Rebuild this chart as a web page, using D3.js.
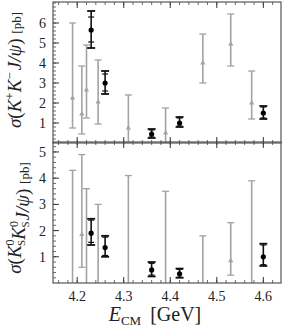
<!DOCTYPE html>
<html>
<head>
<meta charset="utf-8">
<script src="https://cdn.jsdelivr.net/npm/d3@7"></script>
<style>
  body { margin: 0; background: #fff; }
  text { font-family: "Liberation Serif", "DejaVu Serif", serif; fill: #222; }
</style>
</head>
<body>
<svg id="chart" width="304" height="327"></svg>
<script>
// energies (GeV)
var grayE  = [4.19, 4.21, 4.22, 4.245, 4.31, 4.39, 4.47, 4.53, 4.575];
var blackE = [4.23, 4.26, 4.36, 4.42, 4.60];

// K+K- J/psi, gray (other points)
var kkGrayVal = [2.25, 1.45, 2.65, 2.05, 0.75, 0.5, 4.0, 4.95, 2.0];
var kkGrayLo  = [0.75, 0.45, 1.25, 0.95, 0.0, 0.0, 3.0, 3.85, 1.2];
var kkGrayHi  = [6.0, 3.85, 4.9, 4.15, 2.4, 1.75, 5.45, 6.45, 3.6];

// K+K- J/psi, black (measured)
var kkVal    = [5.65, 3.0, 0.45, 1.0, 1.5];
var kkTotLo  = [4.75, 2.45, 0.25, 0.8, 1.2];
var kkTotHi  = [6.6, 3.6, 0.7, 1.3, 1.85];
var kkStatLo = [5.05, 2.6, 0.3, 0.85, 1.25];
var kkStatHi = [6.3, 3.45, 0.65, 1.25, 1.8];

// KsKs J/psi, gray
var ksGrayVal = [-0.5, 1.85, -0.5, -0.5, -0.5, -0.5, -0.5, 0.85, -0.5];
var ksGrayLo  = [-4, 0.6, -3, -3, -3, -3, -3, 0.3, -3];
var ksGrayHi  = [4.3, 4.9, 3.6, 3.0, 4.1, 3.5, 1.8, 2.3, 3.9];

// KsKs J/psi, black
var ksVal    = [1.9, 1.35, 0.5, 0.35, 1.0];
var ksTotLo  = [1.45, 1.0, 0.25, 0.2, 0.65];
var ksTotHi  = [2.45, 1.8, 0.8, 0.55, 1.5];
var ksStatLo = [1.55, 1.05, 0.3, 0.22, 0.7];
var ksStatHi = [2.4, 1.75, 0.75, 0.52, 1.45];

var xTicks = [4.2, 4.3, 4.4, 4.5, 4.6];
var kkTicks = [1, 2, 3, 4, 5, 6];
var ksTicks = [1, 2, 3, 4, 5];

var svg = d3.select('#chart');
var left = 53, right = 281;

var x = d3.scaleLinear().domain([4.148, 4.638]).range([left, right]);

var panels = [
  { top: 2, bottom: 143, domain: [0, 7.05], ticks: kkTicks,
    gVal: kkGrayVal, gLo: kkGrayLo, gHi: kkGrayHi,
    bVal: kkVal, tLo: kkTotLo, tHi: kkTotHi, sLo: kkStatLo, sHi: kkStatHi, id: 'kk' },
  { top: 142, bottom: 283, domain: [0, 5.38], ticks: ksTicks,
    gVal: ksGrayVal, gLo: ksGrayLo, gHi: ksGrayHi,
    bVal: ksVal, tLo: ksTotLo, tHi: ksTotHi, sLo: ksStatLo, sHi: ksStatHi, id: 'ks' }
];

var minorX = d3.range(4.16, 4.64, 0.02);

panels.forEach(function(p) {
  var y = d3.scaleLinear().domain(p.domain).range([p.bottom, p.top]);
  var g = svg.append('g');

  g.append('clipPath').attr('id', 'clip-' + p.id)
    .append('rect').attr('x', left).attr('y', p.top)
    .attr('width', right - left).attr('height', p.bottom - p.top);

  // minor ticks
  var minorY = d3.range(0.2, p.domain[1], 0.2);
  g.selectAll('line.my').data(minorY).enter().append('line')
    .attr('x1', left).attr('x2', left + 3)
    .attr('y1', d => y(d)).attr('y2', d => y(d))
    .style('stroke', '#444').style('stroke-width', 0.8);
  g.selectAll('line.myt').data(p.ticks).enter().append('line')
    .attr('x1', left).attr('x2', left + 6)
    .attr('y1', d => y(d)).attr('y2', d => y(d))
    .style('stroke', '#333').style('stroke-width', 1);

  [p.top, p.bottom].forEach(function(yy, i) {
    var dir = i == 0 ? 1 : -1;
    g.selectAll(null).data(minorX).enter().append('line')
      .attr('x1', d => x(d)).attr('x2', d => x(d))
      .attr('y1', yy).attr('y2', yy + dir * 3)
      .style('stroke', '#444').style('stroke-width', 0.8);
    g.selectAll(null).data(xTicks).enter().append('line')
      .attr('x1', d => x(d)).attr('x2', d => x(d))
      .attr('y1', yy).attr('y2', yy + dir * 6)
      .style('stroke', '#333').style('stroke-width', 1);
  });

  // y tick labels
  g.selectAll('text.yl').data(p.ticks).enter().append('text')
    .attr('x', left - 7).attr('y', d => y(d) + 5)
    .attr('text-anchor', 'end')
    .style('font-size', '14px')
    .text(d => d);

  var data = g.append('g').attr('clip-path', 'url(#clip-' + p.id + ')');

  // gray points
  var gr = data.selectAll('g.gray').data(grayE).enter().append('g');
  gr.append('line')
    .attr('x1', d => x(d)).attr('x2', d => x(d))
    .attr('y1', (d, i) => y(p.gLo[i])).attr('y2', (d, i) => y(p.gHi[i]))
    .style('stroke', '#a3a3a3').style('stroke-width', 1.6);
  [p.gLo, p.gHi].forEach(function(arr) {
    gr.append('line')
      .attr('x1', d => x(d) - 3.5).attr('x2', d => x(d) + 3.5)
      .attr('y1', (d, i) => y(arr[i])).attr('y2', (d, i) => y(arr[i]))
      .style('stroke', '#a3a3a3').style('stroke-width', 1.3);
  });
  gr.append('path')
    .attr('d', d3.symbol().type(d3.symbolTriangle).size(12))
    .attr('transform', (d, i) => 'translate(' + x(d) + ',' + y(p.gVal[i]) + ')')
    .style('fill', '#a3a3a3');

  // black points
  var bl = data.selectAll('g.black').data(blackE).enter().append('g');
  bl.append('line')
    .attr('x1', d => x(d)).attr('x2', d => x(d))
    .attr('y1', (d, i) => y(p.tLo[i])).attr('y2', (d, i) => y(p.tHi[i]))
    .style('stroke', '#111').style('stroke-width', 1.6);
  [p.tLo, p.tHi].forEach(function(arr) {
    bl.append('line')
      .attr('x1', d => x(d) - 4).attr('x2', d => x(d) + 4)
      .attr('y1', (d, i) => y(arr[i])).attr('y2', (d, i) => y(arr[i]))
      .style('stroke', '#111').style('stroke-width', 1.8);
  });
  [p.sLo, p.sHi].forEach(function(arr) {
    bl.append('line')
      .attr('x1', d => x(d) - 3).attr('x2', d => x(d) + 3)
      .attr('y1', (d, i) => y(arr[i])).attr('y2', (d, i) => y(arr[i]))
      .style('stroke', '#111').style('stroke-width', 1.2);
  });
  bl.append('circle')
    .attr('cx', d => x(d)).attr('cy', (d, i) => y(p.bVal[i]))
    .attr('r', 2.6).style('fill', '#000');

  // frame
  g.append('rect').attr('x', left).attr('y', p.top)
    .attr('width', right - left).attr('height', p.bottom - p.top)
    .style('fill', 'none').style('stroke', '#555').style('stroke-width', 1.2);
});

// x tick labels
svg.selectAll('text.xl').data(xTicks).enter().append('text')
  .attr('x', d => x(d)).attr('y', 301)
  .attr('text-anchor', 'middle')
  .style('font-size', '14px')
  .text(d => d.toFixed(1));

// x title
var xt = svg.append('text').attr('x', 155).attr('y', 321)
  .attr('text-anchor', 'middle').style('font-size', '20px');
xt.append('tspan').style('font-style', 'italic').text('E');
xt.append('tspan').attr('dy', 4).style('font-size', '13px').text('CM');
xt.append('tspan').attr('dy', -4).attr('dx', 9).text('[GeV]');

// y titles
var t1 = svg.append('text')
  .attr('transform', 'translate(21,70) rotate(-90)')
  .attr('text-anchor', 'middle').style('font-size', '19px');
t1.append('tspan').style('font-style', 'italic').text('σ');
t1.append('tspan').text('(');
t1.append('tspan').style('font-style', 'italic').text('K');
t1.append('tspan').attr('dy', -7).style('font-size', '13px').text('+');
t1.append('tspan').attr('dy', 7).style('font-style', 'italic').text('K');
t1.append('tspan').attr('dy', -7).style('font-size', '13px').text('−');
t1.append('tspan').attr('dy', 7).attr('dx', 2).style('font-style', 'italic').text('J/ψ');
t1.append('tspan').text(') ');
t1.append('tspan').style('font-size', '13px').text('[pb]');

var t2 = svg.append('text')
  .attr('transform', 'translate(21,218) rotate(-90)')
  .attr('text-anchor', 'middle').style('font-size', '19px');
t2.append('tspan').style('font-style', 'italic').text('σ');
t2.append('tspan').text('(');
[0, 1].forEach(function() {
  t2.append('tspan').style('font-style', 'italic').text('K');
  t2.append('tspan').attr('dy', -7).style('font-size', '12px').text('0');
  t2.append('tspan').attr('dy', 11).attr('dx', -6.5).style('font-size', '11px').text('S');
  t2.append('tspan').attr('dy', -4).text('');
});
t2.append('tspan').attr('dx', 1).style('font-style', 'italic').text('J/ψ');
t2.append('tspan').text(') ');
t2.append('tspan').style('font-size', '13px').text('[pb]');
</script>
</body>
</html>
